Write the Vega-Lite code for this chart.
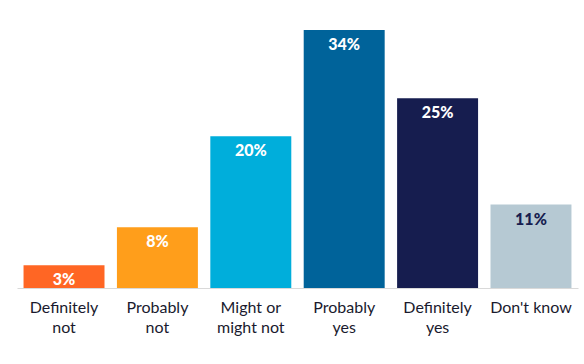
{
  "$schema": "https://vega.github.io/schema/vega-lite/v6.json",
  "autosize": "none",
  "width": 561,
  "height": 258,
  "padding": {"left": 17, "top": 30, "right": 6, "bottom": 76},
  "background": "white",
  "data": {"values": [
    {"cat": "Definitely not", "value": 3, "color": "#FF6624", "tcolor": "white"},
    {"cat": "Probably not", "value": 8, "color": "#FF9E1B", "tcolor": "white"},
    {"cat": "Might or might not", "value": 20, "color": "#00AEDB", "tcolor": "white"},
    {"cat": "Probably yes", "value": 34, "color": "#00639A", "tcolor": "white"},
    {"cat": "Definitely yes", "value": 25, "color": "#161D4F", "tcolor": "white"},
    {"cat": "Don't know", "value": 11, "color": "#B6C9D3", "tcolor": "#161D4F"}
  ]},
  "encoding": {
    "x": {
      "field": "cat", "type": "nominal", "sort": null,
      "scale": {"paddingInner": 0.133, "paddingOuter": 0.07},
      "axis": {
        "title": null, "labelAngle": 0, "domainColor": "#d9d9d9", "ticks": false,
        "labelFont": "Lato", "labelFontSize": 16, "labelColor": "#1a1a2e",
        "labelPadding": 11, "labelLineHeight": 20, "labelLimit": 200,
        "labelExpr": "datum.value == 'Definitely not' ? ['Definitely','not'] : datum.value == 'Probably not' ? ['Probably','not'] : datum.value == 'Might or might not' ? ['Might or','might not'] : datum.value == 'Probably yes' ? ['Probably','yes'] : datum.value == 'Definitely yes' ? ['Definitely','yes'] : datum.value"
      }
    },
    "y": {"field": "value", "type": "quantitative", "scale": {"domain": [0, 34]}, "axis": null}
  },
  "layer": [
    {"mark": {"type": "bar"}, "encoding": {"color": {"field": "color", "type": "nominal", "scale": null}}},
    {
      "mark": {"type": "text", "baseline": "top", "dy": 7, "font": "Lato", "fontWeight": 900, "fontSize": 16, "text": {"expr": "datum.value + '%'"}},
      "encoding": {
        "color": {"field": "tcolor", "type": "nominal", "scale": null}
      }
    }
  ],
  "config": {"view": {"stroke": null}}
}
